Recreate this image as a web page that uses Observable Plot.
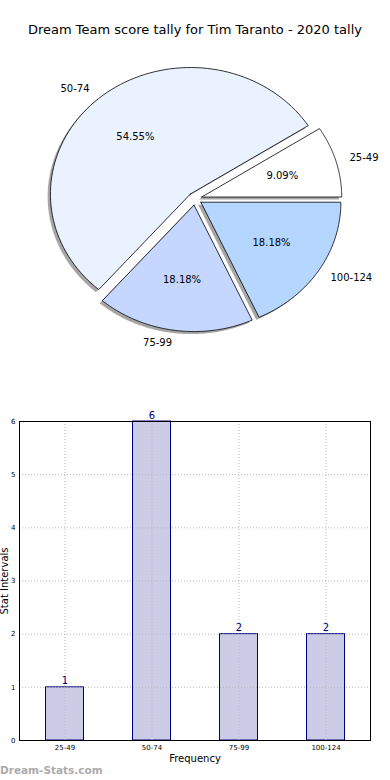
<!DOCTYPE html>
<html><head><meta charset="utf-8">
<script src="https://cdn.jsdelivr.net/npm/d3@7"></script>
<script src="https://cdn.jsdelivr.net/npm/@observablehq/plot@0.6"></script>
<style>
body{margin:0;background:#fff;font-family:"DejaVu Sans",sans-serif;width:390px;height:780px;position:relative;overflow:hidden}
#title{position:absolute;top:22px;left:0;width:390px;text-align:center;font-size:13px;color:#000}
#pie{position:absolute;top:50px;left:0}
#bar{position:absolute;top:380px;left:0}
#wm{position:absolute;left:0;top:764px;font-size:10.5px;color:#ababab;font-weight:bold}
</style></head><body>
<div id="title">Dream Team score tally for Tim Taranto - 2020 tally</div>
<div id="pie"></div>
<div id="bar"></div>
<div id="wm">Dream-Stats.com</div>
<script>
const categories = ["25-49", "50-74", "75-99", "100-124"];
const counts = [1, 6, 2, 2];
const pieColors = ["#ffffff", "#eaf1ff", "#c5d7fe", "#b4d6ff"];
const yTicks = [0, 1, 2, 3, 4, 5, 6];

const explode = 0.05;
const total = d3.sum(counts);
let acc = 0;
const slices = categories.map((c, i) => {
  const a0 = acc, a1 = acc + counts[i] / total * 2 * Math.PI;
  acc = a1;
  const m = (a0 + a1) / 2;
  return {c, i, a0, a1, m, cx: explode * Math.cos(m), cy: explode * Math.sin(m),
          color: pieColors[i], pct: (counts[i] / total * 100).toFixed(2) + "%"};
});
function poly(s, ox, oy) {
  const p = [{x: s.cx + ox, y: s.cy + oy}];
  const N = 90;
  for (let k = 0; k <= N; k++) {
    const a = s.a0 + (s.a1 - s.a0) * k / N;
    p.push({x: s.cx + ox + Math.cos(a), y: s.cy + oy + Math.sin(a)});
  }
  p.push({x: s.cx + ox, y: s.cy + oy});
  return p;
}
const pieMarks = [];
slices.forEach(s => pieMarks.push(Plot.line(poly(s, -0.02, -0.02), {x: "x", y: "y", fill: "#4d4d4d", fillOpacity: 0.5, stroke: "none"})));
slices.forEach(s => pieMarks.push(Plot.line(poly(s, 0, 0), {x: "x", y: "y", fill: s.color, stroke: "#000", strokeWidth: 0.8})));
pieMarks.push(Plot.text(slices, {x: d => d.cx + 0.6 * Math.cos(d.m), y: d => d.cy + 0.6 * Math.sin(d.m), text: "pct", fontSize: 10, fill: "#000"}));
const lx = d => d.cx + 1.1 * Math.cos(d.m), ly = d => d.cy + 1.1 * Math.sin(d.m);
pieMarks.push(Plot.text(slices.filter(d => lx(d) > 0), {x: lx, y: ly, text: "c", textAnchor: "start", fontSize: 10, fill: "#000"}));
pieMarks.push(Plot.text(slices.filter(d => lx(d) <= 0), {x: lx, y: ly, text: "c", textAnchor: "end", fontSize: 10, fill: "#000"}));

const rx = 140, ry = 126.5, pcx = 194.5, pcy = 148.3;
const pie = Plot.plot({
  width: 390, height: 310, margin: 0,
  style: {fontFamily: "DejaVu Sans", background: "transparent"},
  x: {domain: [-pcx / rx, (390 - pcx) / rx], range: [0, 390], axis: null},
  y: {domain: [-(310 - pcy) / ry, pcy / ry], range: [310, 0], axis: null},
  marks: pieMarks
});
document.getElementById("pie").appendChild(pie);

const barData = categories.map((c, i) => ({c, n: counts[i]}));
const bar = Plot.plot({
  width: 390, height: 400,
  marginTop: 41, marginBottom: 40, marginLeft: 19, marginRight: 20,
  style: {fontFamily: "DejaVu Sans", fontSize: "7px", background: "transparent", color: "#000"},
  x: {domain: categories, padding: 0},
  y: {domain: [0, 6]},
  marks: [
    Plot.barY(barData, {x: "c", y: "n", fill: "#cccce6", stroke: "#000080", strokeWidth: 1, insetLeft: 24.5, insetRight: 24.5}),
    Plot.gridX({stroke: "#b8b8b8", strokeOpacity: 1, strokeDasharray: "1,2"}),
    Plot.gridY(yTicks, {stroke: "#b8b8b8", strokeOpacity: 1, strokeDasharray: "1,2"}),
    Plot.text(barData, {x: "c", y: "n", text: d => String(d.n), lineAnchor: "bottom", dy: -3, fill: "#000080", fontSize: 10}),
    Plot.axisX({tickSize: 0, tickPadding: 5, label: null, fontSize: 7}),
    Plot.axisY(yTicks, {tickSize: 0, tickPadding: 4, label: null, fontSize: 7, tickFormat: d => String(d)}),
    Plot.text(["Frequency"], {frameAnchor: "bottom", dy: 21, fontSize: 10, fill: "#000"}),
    Plot.text(["Stat Intervals"], {frameAnchor: "left", textAnchor: "middle", dx: -15, rotate: -90, fontSize: 10, fill: "#000"}),
    Plot.frame({stroke: "#000", strokeWidth: 1})
  ]
});
document.getElementById("bar").appendChild(bar);
</script>
</body></html>
